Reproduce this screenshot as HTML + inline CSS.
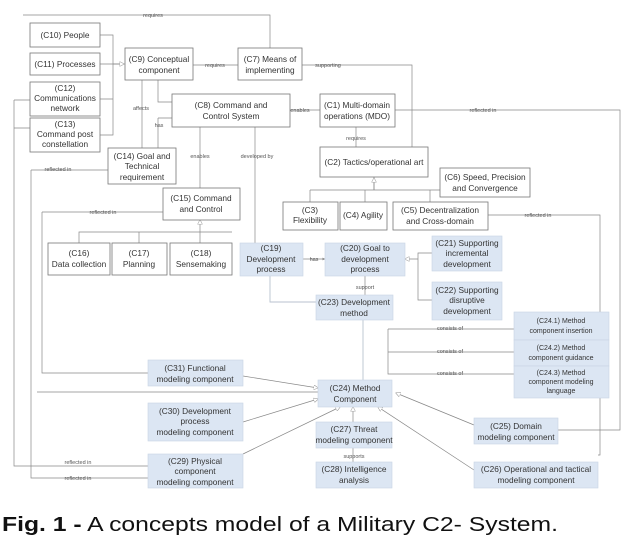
<!DOCTYPE html>
<html><head><meta charset="utf-8"><style>
html,body{margin:0;padding:0;background:#fff;width:640px;height:547px;overflow:hidden}
svg{display:block}
text{font-family:"Liberation Sans",sans-serif;fill:#333}
.t{font-size:8.3px;text-anchor:middle}
.s{font-size:5.5px;text-anchor:middle;fill:#555}
.b{fill:#fff;stroke:#777;stroke-width:0.8}
.u{fill:#dce6f3;stroke:#c8d4e4;stroke-width:0.6}
.l{fill:none;stroke:#888;stroke-width:0.7}
.lb{fill:none;stroke:#b8c2cf;stroke-width:0.9}
</style></head><body>
<svg width="640" height="547" viewBox="0 0 640 547">
<defs>
<marker id="tri" viewBox="0 0 10 10" refX="9" refY="5" markerWidth="7" markerHeight="7" orient="auto"><path d="M0,0 L10,5 L0,10 z" fill="#fff" stroke="#888"/></marker>
<marker id="ar" viewBox="0 0 10 10" refX="9" refY="5" markerWidth="4" markerHeight="4" orient="auto"><path d="M0,0 L10,5 L0,10 z" fill="#888"/></marker>
</defs>
<!-- connectors -->
<path class="l" d="M23,15 H270 V48"/>
<text class="s" x="153" y="17">requires</text>
<path class="l" d="M100,35 H113 V135 H100 M100,64 H124 M100,99 H113" />
<path class="l" d="M113,64 H124" marker-end="url(#tri)"/>
<path class="l" d="M193,65 H238"/><text class="s" x="215" y="67">requires</text>
<path class="l" d="M302,65 H412 V147"/><text class="s" x="328" y="67">supporting</text>
<path class="l" d="M142,80 V148"/><text class="s" x="141" y="110">affects</text>
<path class="l" d="M158,80 V102 H172 M158,118 H172 M158,118 V148"/><text class="s" x="159" y="127">has</text>
<path class="l" d="M290,110 H320"/><text class="s" x="300" y="112">enables</text>
<path class="l" d="M395,110 H620 V430 H558"/><text class="s" x="483" y="112">reflected in</text>
<path class="l" d="M356,127 V147"/><text class="s" x="356" y="140">requires</text>
<path class="l" d="M200,127 V188"/><text class="s" x="200" y="158">enables</text>
<path class="l" d="M255,127 V243"/><text class="s" x="257" y="158">developed by</text>
<path class="l" d="M31,170 H108"/><text class="s" x="58" y="171">reflected in</text>
<path class="l" d="M31,170 V478 H148"/><text class="s" x="78" y="480">reflected in</text>
<path class="l" d="M14,100 H30 M14,128 H30 M14,100 V466 H148"/><text class="s" x="78" y="464">reflected in</text>
<path class="l" d="M42,212 H163"/><text class="s" x="103" y="214">reflected in</text>
<path class="l" d="M42,212 V373 H148"/>
<path class="l" d="M200,232 V220" marker-end="url(#tri)"/>
<path class="l" d="M79,243 V232 H232 M139,232 V243 M200,232 V243"/>
<path class="l" d="M310,190 H440 M310,190 V202 M365,190 V202 M430,190 V202 M374,190 V177" />
<path class="l" d="M374,190 V178" marker-end="url(#tri)"/>
<path class="l" d="M488,215 H600 V455 H598"/><text class="s" x="538" y="217">reflected in</text>
<path class="l" d="M303,259 H325" marker-end="url(#ar)"/><text class="s" x="314" y="261">has</text>
<path class="l" d="M432,253 H418 V300 H432 M418,259 H405" marker-end="url(#tri)"/>
<path class="l" d="M365,276 V295"/><text class="s" x="365" y="289">support</text>
<path class="lb" d="M270,276 V302 H316"/>
<path class="lb" d="M363,320 V380"/>
<path class="l" d="M388,329 H514 M388,352 H514 M388,374 H514 M388,329 V374 H393"/>
<text class="s" x="450" y="330">consists of</text><text class="s" x="450" y="353">consists of</text><text class="s" x="450" y="375">consists of</text>
<path class="l" d="M243,376 L318,388" marker-end="url(#tri)"/>
<path class="l" d="M37,392 H318"/>
<path class="l" d="M243,422 L318,399" marker-end="url(#tri)"/>
<path class="l" d="M243,454 L340,407" marker-end="url(#tri)"/>
<path class="l" d="M353,422 V407" marker-end="url(#tri)"/>
<path class="l" d="M353,448 V462"/><text class="s" x="354" y="458">supports</text>
<path class="l" d="M474,425 L396,393" marker-end="url(#tri)"/>
<path class="l" d="M474,470 L378,407" marker-end="url(#tri)"/>
<!-- white boxes -->
<rect class="b" x="30" y="23" width="70" height="24"/><text class="t" x="65" y="38">(C10) People</text>
<rect class="b" x="30" y="53" width="70" height="22"/><text class="t" x="65" y="67">(C11) Processes</text>
<rect class="b" x="30" y="82" width="70" height="34"/><text class="t" x="65" y="91">(C12)</text><text class="t" x="65" y="101">Communications</text><text class="t" x="65" y="111">network</text>
<rect class="b" x="30" y="118" width="70" height="34"/><text class="t" x="65" y="127">(C13)</text><text class="t" x="65" y="137">Command post</text><text class="t" x="65" y="147">constellation</text>
<rect class="b" x="125" y="48" width="68" height="32"/><text class="t" x="159" y="62">(C9) Conceptual</text><text class="t" x="159" y="73">component</text>
<rect class="b" x="238" y="48" width="64" height="32"/><text class="t" x="270" y="62">(C7) Means of</text><text class="t" x="270" y="73">implementing</text>
<rect class="b" x="172" y="94" width="118" height="33"/><text class="t" x="231" y="108">(C8) Command and</text><text class="t" x="231" y="119">Control System</text>
<rect class="b" x="320" y="94" width="75" height="33"/><text class="t" x="357" y="108">(C1) Multi-domain</text><text class="t" x="357" y="119">operations (MDO)</text>
<rect class="b" x="108" y="148" width="68" height="36"/><text class="t" x="142" y="159">(C14) Goal and</text><text class="t" x="142" y="169">Technical</text><text class="t" x="142" y="180">requirement</text>
<rect class="b" x="320" y="147" width="108" height="30"/><text class="t" x="374" y="165">(C2) Tactics/operational art</text>
<rect class="b" x="440" y="168" width="90" height="29"/><text class="t" x="485" y="180">(C6) Speed, Precision</text><text class="t" x="485" y="191">and Convergence</text>
<rect class="b" x="283" y="202" width="55" height="28"/><text class="t" x="310" y="213">(C3)</text><text class="t" x="310" y="223">Flexibility</text>
<rect class="b" x="340" y="202" width="47" height="28"/><text class="t" x="363" y="218">(C4) Agility</text>
<rect class="b" x="393" y="202" width="95" height="28"/><text class="t" x="440" y="213">(C5) Decentralization</text><text class="t" x="440" y="224">and Cross-domain</text>
<rect class="b" x="163" y="188" width="77" height="32"/><text class="t" x="201" y="201">(C15) Command</text><text class="t" x="201" y="212">and Control</text>
<rect class="b" x="48" y="243" width="62" height="32"/><text class="t" x="79" y="256">(C16)</text><text class="t" x="79" y="267">Data collection</text>
<rect class="b" x="112" y="243" width="55" height="32"/><text class="t" x="139" y="256">(C17)</text><text class="t" x="139" y="267">Planning</text>
<rect class="b" x="170" y="243" width="62" height="32"/><text class="t" x="201" y="256">(C18)</text><text class="t" x="201" y="267">Sensemaking</text>
<!-- blue boxes -->
<rect class="u" x="240" y="243" width="63" height="33"/><text class="t" x="271" y="251">(C19)</text><text class="t" x="271" y="262">Development</text><text class="t" x="271" y="272">process</text>
<rect class="u" x="325" y="243" width="80" height="33"/><text class="t" x="365" y="251">(C20) Goal to</text><text class="t" x="365" y="262">development</text><text class="t" x="365" y="272">process</text>
<rect class="u" x="432" y="236" width="70" height="35"/><text class="t" x="467" y="246">(C21) Supporting</text><text class="t" x="467" y="256">incremental</text><text class="t" x="467" y="267">development</text>
<rect class="u" x="432" y="282" width="70" height="38"/><text class="t" x="467" y="293">(C22) Supporting</text><text class="t" x="467" y="303">disruptive</text><text class="t" x="467" y="314">development</text>
<rect class="u" x="316" y="295" width="77" height="25"/><text class="t" x="354" y="305">(C23) Development</text><text class="t" x="354" y="316">method</text>
<rect class="u" x="514" y="312" width="95" height="28"/><text class="t" x="561" y="323" style="font-size:7px">(C24.1) Method</text><text class="t" x="561" y="333" style="font-size:7px">component insertion</text>
<rect class="u" x="514" y="340" width="95" height="26"/><text class="t" x="561" y="350" style="font-size:7px">(C24.2) Method</text><text class="t" x="561" y="360" style="font-size:7px">component guidance</text>
<rect class="u" x="514" y="366" width="95" height="32"/><text class="t" x="561" y="375" style="font-size:7px">(C24.3) Method</text><text class="t" x="561" y="384" style="font-size:7px">component modeling</text><text class="t" x="561" y="393" style="font-size:7px">language</text>
<rect class="u" x="318" y="380" width="74" height="27"/><text class="t" x="355" y="391">(C24) Method</text><text class="t" x="355" y="402">Component</text>
<rect class="u" x="148" y="360" width="95" height="26"/><text class="t" x="195" y="371">(C31) Functional</text><text class="t" x="195" y="382">modeling component</text>
<rect class="u" x="148" y="403" width="95" height="38"/><text class="t" x="195" y="414">(C30) Development</text><text class="t" x="195" y="424">process</text><text class="t" x="195" y="435">modeling component</text>
<rect class="u" x="316" y="422" width="76" height="26"/><text class="t" x="354" y="432">(C27) Threat</text><text class="t" x="354" y="443">modeling component</text>
<rect class="u" x="474" y="418" width="84" height="26"/><text class="t" x="516" y="429">(C25) Domain</text><text class="t" x="516" y="440">modeling component</text>
<rect class="u" x="148" y="454" width="95" height="34"/><text class="t" x="195" y="464">(C29) Physical</text><text class="t" x="195" y="474">component</text><text class="t" x="195" y="485">modeling component</text>
<rect class="u" x="316" y="462" width="76" height="26"/><text class="t" x="354" y="472">(C28) Intelligence</text><text class="t" x="354" y="483">analysis</text>
<rect class="u" x="474" y="462" width="124" height="26"/><text class="t" x="536" y="472">(C26) Operational and tactical</text><text class="t" x="536" y="483">modeling component</text>
<!-- caption -->
<text x="2" y="531" style="font-size:20px;fill:#111" textLength="556" lengthAdjust="spacingAndGlyphs"><tspan font-weight="bold">Fig. 1 -</tspan> A concepts model of a Military C2- System.</text>
</svg>
</body></html>
